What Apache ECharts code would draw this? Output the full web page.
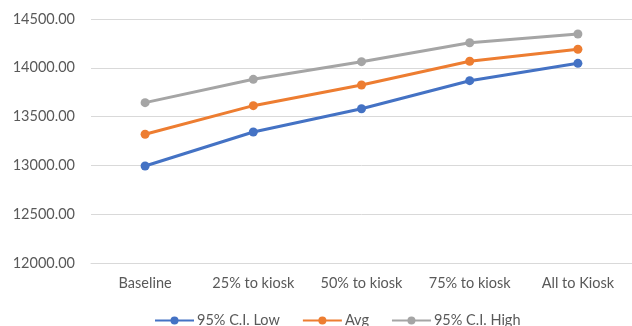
<!DOCTYPE html>
<html>
<head>
<meta charset="utf-8">
<script src="https://cdn.jsdelivr.net/npm/echarts@6/dist/echarts.min.js"></script>
<style>
  html, body { margin: 0; padding: 0; background: #fff; }
  #chart { width: 632px; height: 326px; }
</style>
</head>
<body>
<div id="chart"></div>
<script>
// Scenario categories along the x axis
const categories = ['Baseline', '25% to kiosk', '50% to kiosk', '75% to kiosk', 'All to Kiosk'];

// Lower bound, mean and upper bound of the 95% confidence interval
const ciLow  = [12994, 13342, 13581, 13868, 14046];
const avg    = [13319, 13612, 13824, 14067, 14190];
const ciHigh = [13643, 13882, 14063, 14257, 14346];

// Value axis range
const yMin = 12000, yMax = 14500, yStep = 500;

const font = 'Lato, "Liberation Sans", sans-serif';
const textColor = '#595959';

function lineSeries(name, data, color) {
  return {
    name: name,
    type: 'line',
    data: data,
    symbol: 'circle',
    symbolSize: 9,
    lineStyle: { width: 3, color: color },
    itemStyle: { color: color },
    z: 3
  };
}

const chart = echarts.init(document.getElementById('chart'));
chart.setOption({
  animation: false,
  backgroundColor: '#ffffff',
  grid: { left: 91, right: 0, top: 19, bottom: 63 },
  legend: {
    top: 308,
    left: 149,
    itemWidth: 39,
    itemHeight: 10,
    itemGap: 22,
    textStyle: { fontFamily: font, fontSize: 14.5, color: textColor, padding: [0, 0, 0, -2] },
    data: ['95% C.I. Low', 'Avg', '95% C.I. High']
  },
  xAxis: {
    type: 'category',
    data: categories,
    boundaryGap: true,
    axisLine: { show: true, lineStyle: { color: '#d9d9d9', width: 1 } },
    axisTick: { show: false },
    axisLabel: { color: textColor, fontFamily: font, fontSize: 14.5, margin: 13 }
  },
  yAxis: {
    type: 'value',
    min: yMin,
    max: yMax,
    interval: yStep,
    axisLine: { show: false },
    axisTick: { show: false },
    splitLine: { lineStyle: { color: '#d9d9d9', width: 1 } },
    axisLabel: {
      color: textColor, fontFamily: font, fontSize: 14.5, margin: 16,
      formatter: v => v.toFixed(2)
    }
  },
  series: [
    lineSeries('95% C.I. Low', ciLow, '#4472C4'),
    lineSeries('Avg', avg, '#ED7D31'),
    lineSeries('95% C.I. High', ciHigh, '#A5A5A5')
  ]
});
</script>
</body>
</html>
